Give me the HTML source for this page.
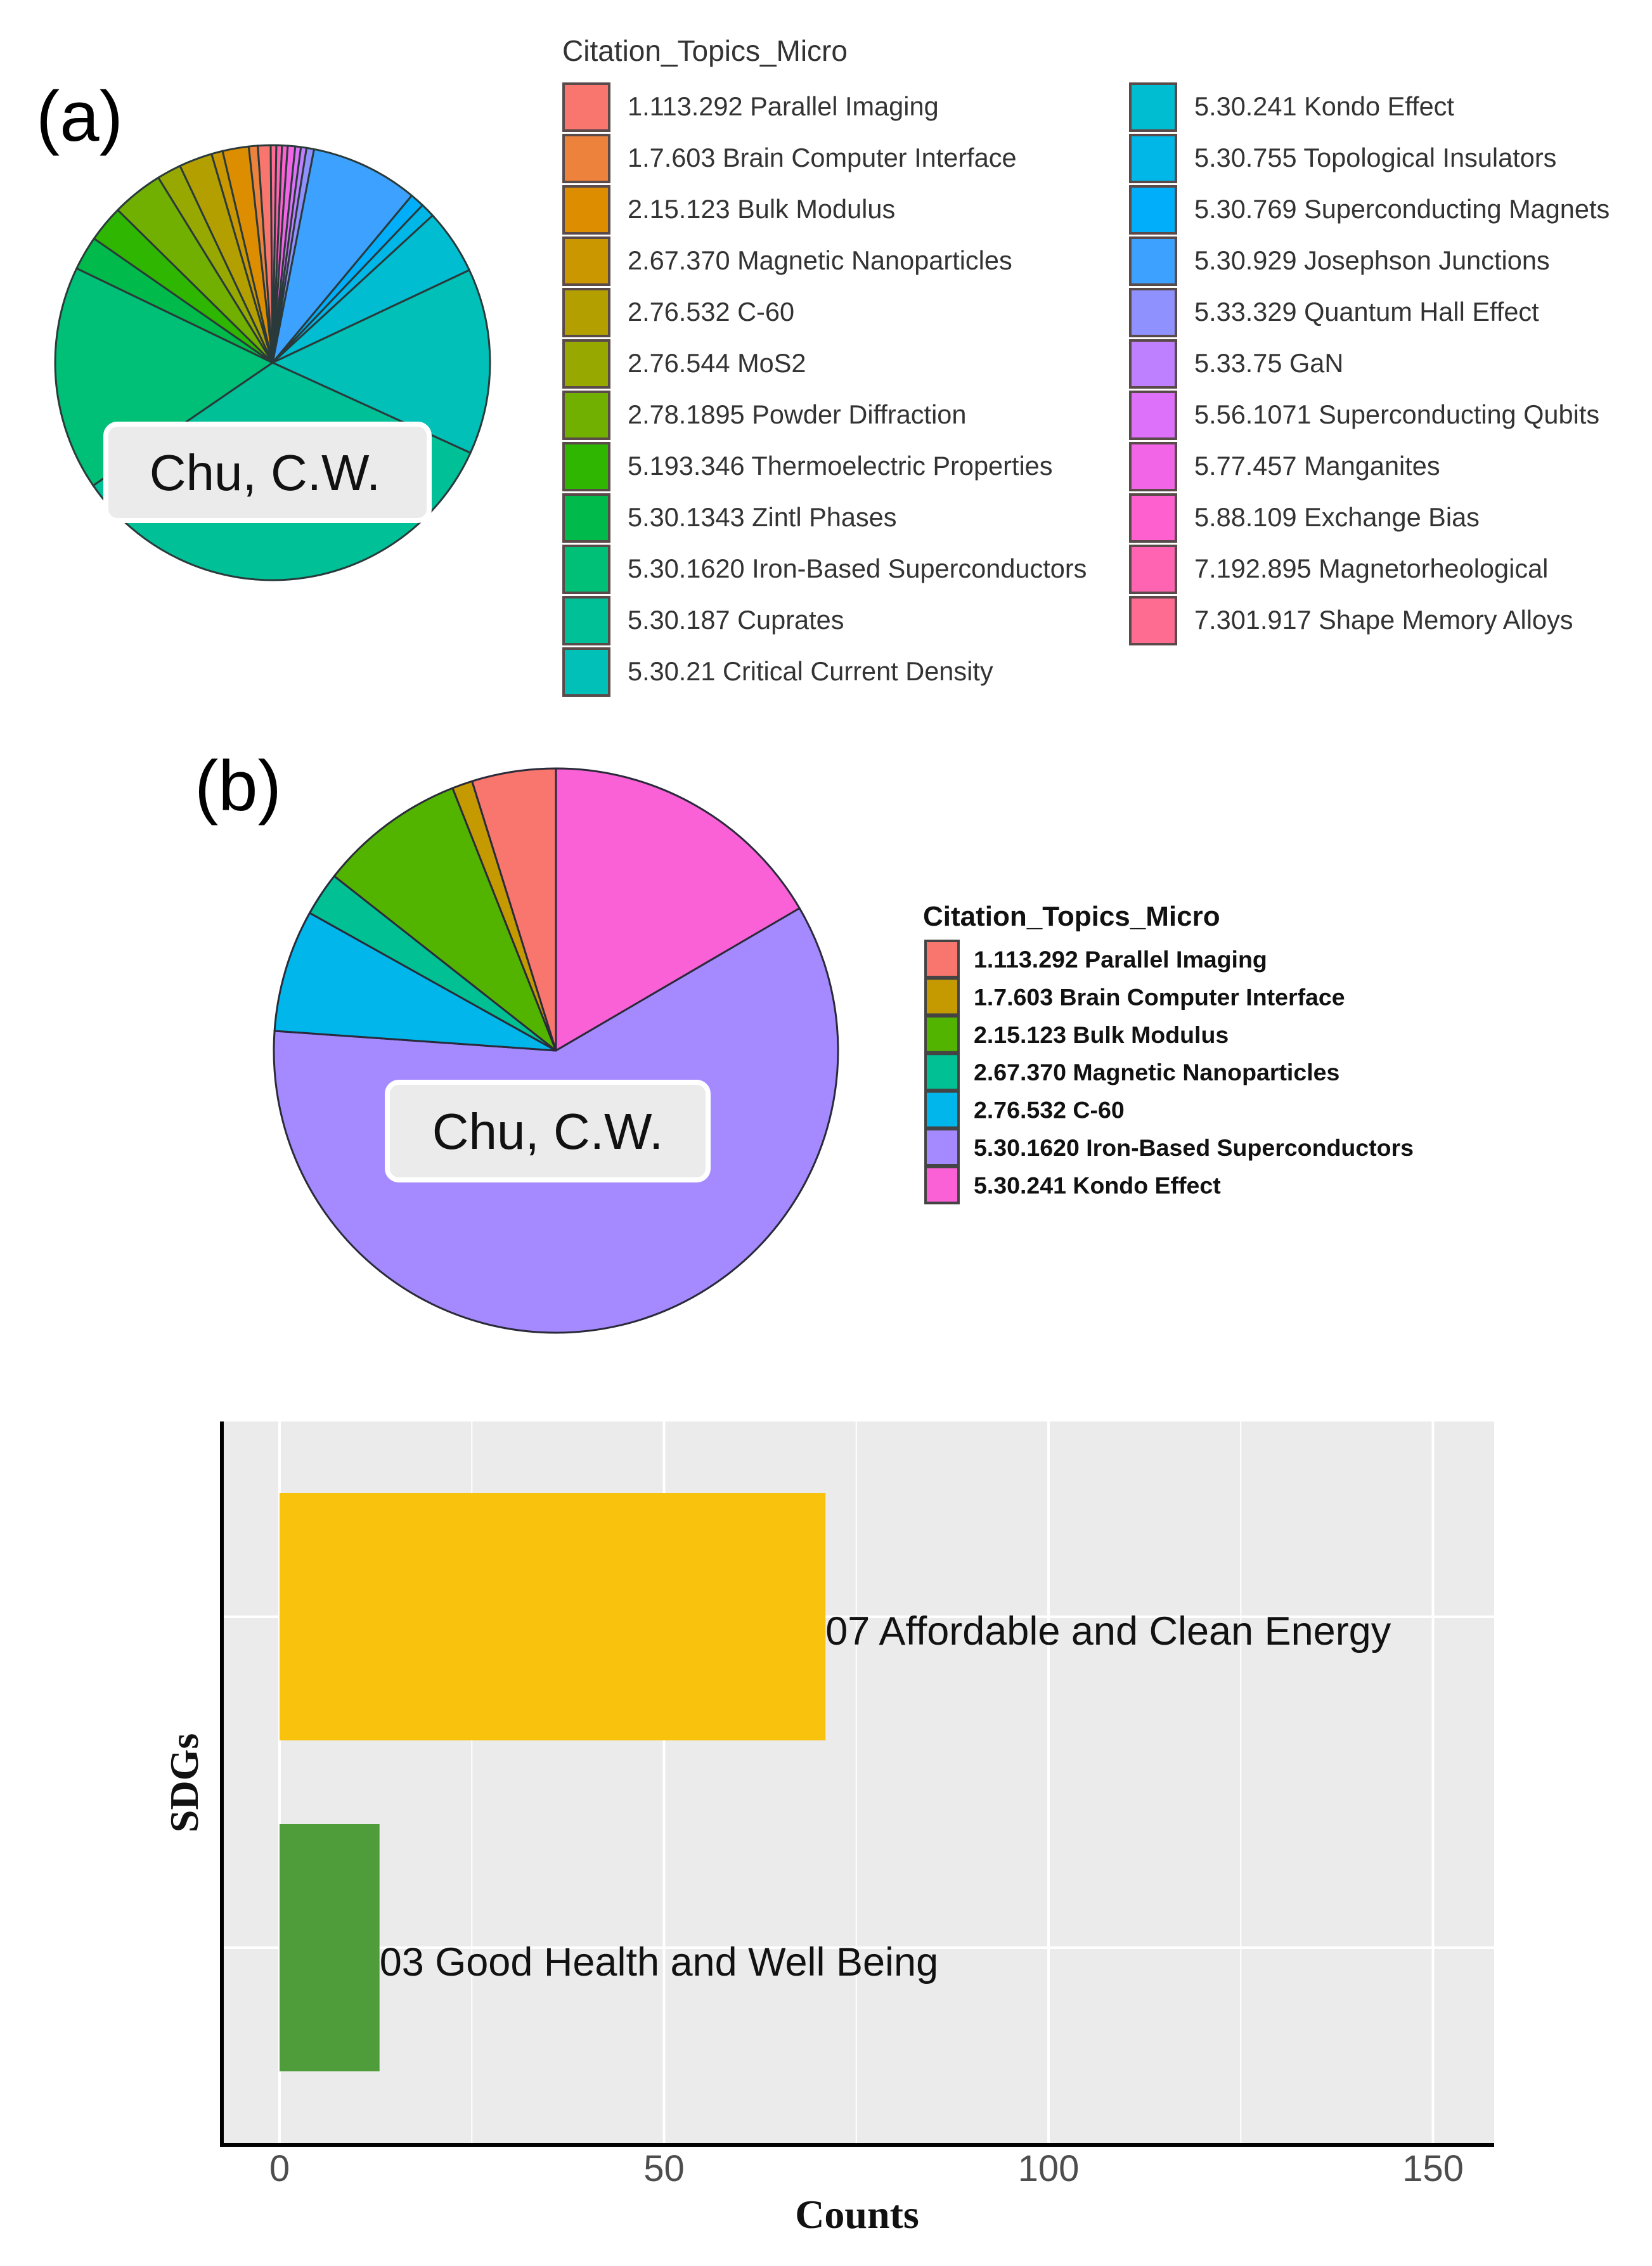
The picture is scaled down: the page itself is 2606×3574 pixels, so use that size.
<!DOCTYPE html>
<html><head><meta charset="utf-8"><style>
html,body{margin:0;padding:0;background:#fff}
svg{display:block;font-family:"Liberation Sans",sans-serif}
</style></head><body>
<svg id="root" width="2606" height="3574" viewBox="0 0 2606 3574" xmlns="http://www.w3.org/2000/svg">
<g id="pieA"></g>
<g id="legA"></g>
<g id="pieB"></g>
<g id="legB"></g>
<g id="bar"></g>
<text x="57" y="222" font-size="112" fill="#000">(a)</text>
<text x="307" y="1278" font-size="112" fill="#000">(b)</text>
</svg>
<script>
// ---- Pie (a) data (legend order) ----
const topicsA = ["1.113.292 Parallel Imaging","1.7.603 Brain Computer Interface","2.15.123 Bulk Modulus","2.67.370 Magnetic Nanoparticles","2.76.532 C-60","2.76.544 MoS2","2.78.1895 Powder Diffraction","5.193.346 Thermoelectric Properties","5.30.1343 Zintl Phases","5.30.1620 Iron-Based Superconductors","5.30.187 Cuprates","5.30.21 Critical Current Density","5.30.241 Kondo Effect","5.30.755 Topological Insulators","5.30.769 Superconducting Magnets","5.30.929 Josephson Junctions","5.33.329 Quantum Hall Effect","5.33.75 GaN","5.56.1071 Superconducting Qubits","5.77.457 Manganites","5.88.109 Exchange Bias","7.192.895 Magnetorheological","7.301.917 Shape Memory Alloys"];
const valuesA = [3.4,2.4,7,3,8.9,6.5,13.7,9.8,9.1,60.1,121.1,49.7,17.4,3.8,3.8,28.8,2,1.5,1.5,2,1.5,1.5,1.5];
const sliceOrderA = [15,14,13,12,11,10,9,8,7,6,5,4,3,2,1,0,22,21,20,19,18,17,16];
// ---- Pie (b) data ----
const topicsB = ["1.113.292 Parallel Imaging","1.7.603 Brain Computer Interface","2.15.123 Bulk Modulus","2.67.370 Magnetic Nanoparticles","2.76.532 C-60","5.30.1620 Iron-Based Superconductors","5.30.241 Kondo Effect"];
const valuesB = [17.3,4.2,30.3,9,25.2,214.3,59.7];
// ---- Bar data ----
const sdgCats = ["07 Affordable and Clean Energy","03 Good Health and Well Being"];
const sdgCounts = [71,13];
const sdgColors = ["#F9C20C","#4E9C3A"];
const xTicks = [0,50,100,150];
const xMinor = [25,75,125];

const NS="http://www.w3.org/2000/svg";
function mk(tag,attrs,parent){const e=document.createElementNS(NS,tag);for(const k in attrs)e.setAttribute(k,attrs[k]);parent.appendChild(e);return e;}
function hue(n){const out=[];for(let i=0;i<n;i++){out.push(hcl(15+360*i/n,100,65));}return out;}
function hcl(h,C,L){const hr=h*Math.PI/180,u=C*Math.cos(hr),v=C*Math.sin(hr);
 const Xn=95.047,Yn=100,Zn=108.883,un=4*Xn/(Xn+15*Yn+3*Zn),vn=9*Yn/(Xn+15*Yn+3*Zn);
 const Y=Math.pow((L+16)/116,3);const up=u/(13*L)+un,vp=v/(13*L)+vn;
 const X=Y*9*up/(4*vp),Z=Y*(12-3*up-20*vp)/(4*vp);
 let r=3.2406*X-1.5372*Y-0.4986*Z,g=-0.9689*X+1.8758*Y+0.0415*Z,b=0.0557*X-0.2040*Y+1.0570*Z;
 const gm=c=>{c=c<=0.0031308?12.92*c:1.055*Math.pow(c,1/2.4)-0.055;return Math.max(0,Math.min(255,Math.round(c*255)));};
 return "rgb("+gm(r)+","+gm(g)+","+gm(b)+")";}
function arc(cx,cy,r,a0,a1){const p=a=>[cx+r*Math.sin(a*Math.PI/180),cy-r*Math.cos(a*Math.PI/180)];
 const s=p(a0),e=p(a1);return "M"+cx+","+cy+"L"+s[0]+","+s[1]+"A"+r+","+r+" 0 "+((a1-a0)>180?1:0)+" 1 "+e[0]+","+e[1]+"Z";}

// Pie A
const colA=hue(23);
(function(){const g=document.getElementById('pieA');const tot=valuesA.reduce((a,b)=>a+b,0);
 let a=11;for(const i of sliceOrderA){const d=valuesA[i]/tot*360;
  const p=mk('path',{d:arc(430,572,343,a,a+d),fill:colA[i],stroke:"#2a3a3a","stroke-width":3,"stroke-linejoin":"round"},g);
  
  
  a+=d;}
 const r=mk('rect',{x:167,y:669,width:510,height:152,rx:18,fill:"#EBEBEB",stroke:"#fff","stroke-width":8},g);
 
 
 const t=mk('text',{x:418,y:773,"font-size":80,"text-anchor":"middle",fill:"#111"},g);t.textContent="Chu, C.W.";
 
 
})();
// Legend A
(function(){const g=document.getElementById('legA');
 const t=mk('text',{x:887,y:96,"font-size":46,fill:"#333"},g);t.textContent="Citation_Topics_Micro";
 
 
 for(let i=0;i<topicsA.length;i++){const col=i<12?0:1,row=i<12?i:i-12;
  const x=col?1781:887,y=130+row*81;
  const k=mk('rect',{x:x+2,y:y+2,width:72,height:74,fill:colA[i],stroke:"#5a4a4a","stroke-width":4},g);
  
  
  const tx=mk('text',{x:x+103,y:y+52,"font-size":41.5,fill:"#333"},g);tx.textContent=topicsA[i];
  
  }
})();
// Pie B
const colB=hue(7);
(function(){const g=document.getElementById('pieB');const tot=valuesB.reduce((a,b)=>a+b,0);
 let a=0;for(let i=valuesB.length-1;i>=0;i--){const d=valuesB[i]/tot*360;
  const p=mk('path',{d:arc(877,1657,445,a,a+d),fill:colB[i],stroke:"#2a2a3a","stroke-width":3,"stroke-linejoin":"round"},g);
  
  
  a+=d;}
 const r=mk('rect',{x:611,y:1707,width:506,height:154,rx:18,fill:"#EBEBEB",stroke:"#fff","stroke-width":8},g);
 
 
 const t=mk('text',{x:864,y:1812,"font-size":80,"text-anchor":"middle",fill:"#111"},g);t.textContent="Chu, C.W.";
 
 
})();
// Legend B
(function(){const g=document.getElementById('legB');
 const t=mk('text',{x:1456,y:1460,"font-size":44,"font-weight":"bold",fill:"#111"},g);t.textContent="Citation_Topics_Micro";
 
 
 for(let i=0;i<topicsB.length;i++){const y=1484+i*59.4;
  const k=mk('rect',{x:1460,y:y,width:52,height:57,fill:colB[i],stroke:"#444","stroke-width":4},g);
  
  
  const tx=mk('text',{x:1536,y:y+42,"font-size":37.5,"font-weight":"bold",fill:"#111"},g);tx.textContent=topicsB[i];
  
  }
})();
// Bar chart
(function(){const g=document.getElementById('bar');
 const L=350,R=2357,T=2242,B=3383;const x=v=>441+v*12.13;
 const catY=i=>2550+i*522, bw=390;
 const bg=mk('rect',{x:L,y:T,width:R-L,height:B-T,fill:"#EBEBEB"},g);
 
 
 for(const v of xMinor){const l=mk('line',{x1:x(v),x2:x(v),y1:T,y2:B,stroke:"#fff","stroke-width":2},g);
  
  }
 for(const v of xTicks){const l=mk('line',{x1:x(v),x2:x(v),y1:T,y2:B,stroke:"#fff","stroke-width":4},g);
  
  
  const t=mk('text',{x:x(v),y:3440,"font-size":58,"text-anchor":"middle",fill:"#4d4d4d"},g);t.textContent=String(v);
  
  }
 for(let i=0;i<sdgCats.length;i++){const l=mk('line',{x1:L,x2:R,y1:catY(i),y2:catY(i),stroke:"#fff","stroke-width":4},g);
  
  }
 for(let i=0;i<sdgCats.length;i++){
  const b=mk('rect',{x:x(0),y:catY(i)-bw/2,width:x(sdgCounts[i])-x(0),height:bw,fill:sdgColors[i]},g);
  
  
  const t=mk('text',{x:x(sdgCounts[i]),y:catY(i)+44,"font-size":63,fill:"#111"},g);t.textContent=sdgCats[i];
  
  }
 const ax=mk('path',{d:"M"+L+","+T+"L"+L+","+B+"L"+R+","+B,fill:"none",stroke:"#000","stroke-width":6},g);
 
 
 const xt=mk('text',{x:1352,y:3514,"font-size":64,"font-weight":"bold","text-anchor":"middle","font-family":"Liberation Serif, serif",fill:"#111"},g);xt.textContent="Counts";
 
 
 const yt=mk('text',{x:0,y:0,"font-size":64,"font-weight":"bold","text-anchor":"middle","font-family":"Liberation Serif, serif",fill:"#111",transform:"translate(312,2812) rotate(-90)"},g);yt.textContent="SDGs";
 
 
})();
</script>
</body></html>
